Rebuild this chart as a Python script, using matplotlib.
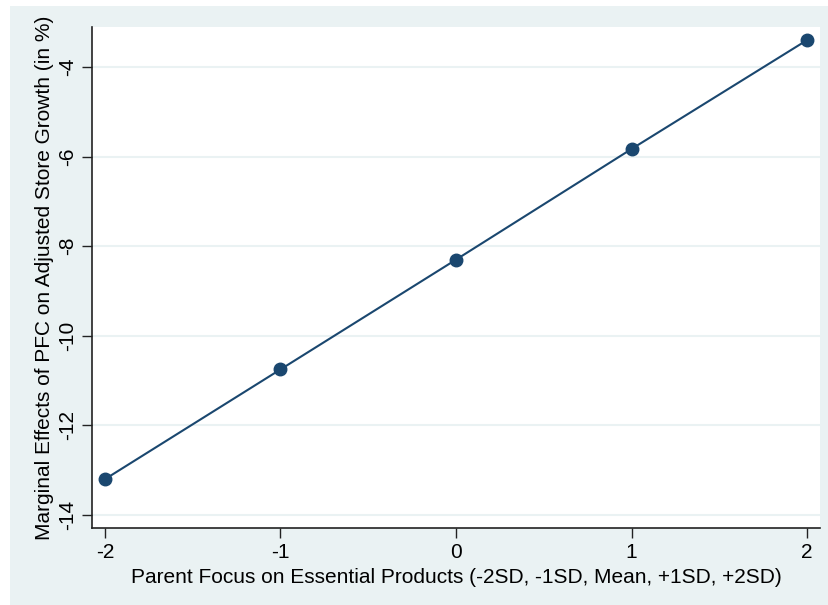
import matplotlib.pyplot as plt
from matplotlib.patches import Rectangle

plt.rcParams['font.family'] = ['Liberation Sans', 'DejaVu Sans']
plt.rcParams['axes.unicode_minus'] = False

x_vals = [-2, -1, 0, 1, 2]
effects = [-13.20, -10.75, -8.30, -5.83, -3.40]
y_ticks = [-14, -12, -10, -8, -6, -4]

navy = '#1a476f'
panel = '#eaf2f3'

fig = plt.figure(figsize=(8.29, 6.05), dpi=100)
fig.patch.set_facecolor('white')
# Stata style outer graph region
fig.add_artist(Rectangle((10 / 829, 0), 1, 1 - 6 / 605, transform=fig.transFigure,
                         facecolor=panel, edgecolor='none', zorder=-10))

ax = fig.add_axes([92 / 829, 1 - 528 / 605, (820 - 92) / 829, (528 - 27) / 605])
ax.set_facecolor('white')

ax.plot(x_vals, effects, color=navy, lw=1.5, marker='o', ms=9, zorder=3)

ax.set_xlim(-2.074, 2.074)
ax.set_ylim(-14.29, -3.107)
ax.set_xticks(x_vals)
ax.set_yticks(y_ticks)
ax.set_yticklabels([str(v) for v in y_ticks], rotation=90, va='center')
ax.grid(axis='y', color=panel, lw=1.5, zorder=0)
ax.set_axisbelow(True)

for s in ['top', 'right']:
    ax.spines[s].set_visible(False)
for s in ['left', 'bottom']:
    ax.spines[s].set_color('#222222')
    ax.spines[s].set_linewidth(1.2)
ax.tick_params(direction='out', length=7, width=1, color='#222222', labelsize=15, pad=4)

ax.set_xlabel('Parent Focus on Essential Products (-2SD, -1SD, Mean, +1SD, +2SD)', fontsize=15, labelpad=4)
ax.set_ylabel('Marginal Effects of PFC on Adjusted Store Growth (in %)', fontsize=15, labelpad=3)

fig.savefig('out.png', dpi=100, facecolor=fig.get_facecolor())
